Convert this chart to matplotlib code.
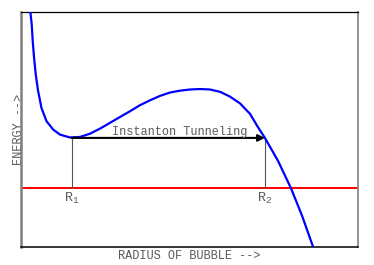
import matplotlib
matplotlib.use("Agg")
import matplotlib.pyplot as plt

plt.rcParams['font.family'] = ['Liberation Mono', 'DejaVu Sans Mono']
plt.rcParams['mathtext.fontset'] = 'custom'
plt.rcParams['mathtext.rm'] = 'Liberation Mono'
plt.rcParams['mathtext.it'] = 'Liberation Mono'

# potential curve
radius = [0.28, 0.32, 0.35, 0.39, 0.44, 0.51, 0.61, 0.76, 0.96, 1.16, 1.45, 1.75,
          2.05, 2.34, 2.64, 2.94, 3.23, 3.53, 3.83, 4.13, 4.42, 4.72, 5.02, 5.31,
          5.61, 5.91, 6.20, 6.50, 6.80, 7.02, 7.24, 7.63, 8.01, 8.34, 8.67]
energy = [10.0, 9.46, 8.75, 8.04, 7.33, 6.63, 5.91, 5.35, 4.99, 4.78, 4.66, 4.68,
          4.82, 5.03, 5.28, 5.53, 5.77, 6.03, 6.24, 6.43, 6.57, 6.65, 6.70, 6.72,
          6.70, 6.60, 6.40, 6.11, 5.66, 5.13, 4.64, 3.66, 2.51, 1.34, 0.0]

true_vacuum = 2.5
r1, r2 = 1.51, 7.24
level = 4.64

fig = plt.figure(figsize=(3.74, 2.65), dpi=100)
ax = fig.add_axes([0.056, 0.068, 0.901, 0.887])

ax.plot(radius, energy, color='blue', lw=1.6, zorder=3,
        solid_joinstyle='round')
ax.axhline(true_vacuum, color='red', lw=1.4, zorder=2)

# drop lines to the red level
ax.plot([r1, r1], [true_vacuum, level], color='#555555', lw=0.8)
ax.plot([r2, r2], [true_vacuum, level], color='#555555', lw=0.8)

# tunneling arrow
ax.annotate('', xy=(r2, level), xytext=(r1, level),
            arrowprops=dict(arrowstyle='-|>', color='black', lw=1.5,
                            mutation_scale=10, shrinkA=0, shrinkB=0))
ax.text((r1 + r2) / 2 + 0.34, level + 0.12, 'Instanton Tunneling',
        ha='center', va='baseline', fontsize=8.6, color='#5a5a5a')

ax.text(r1, true_vacuum - 0.12, r'R$_1$', ha='center', va='top', fontsize=9.6, color='#5a5a5a')
ax.text(r2, true_vacuum - 0.12, r'R$_2$', ha='center', va='top', fontsize=9.6, color='#5a5a5a')

ax.set_xlim(0, 10)
ax.set_ylim(0, 10)
ax.set_xticks([])
ax.set_yticks([])
ax.set_xlabel('RADIUS OF BUBBLE -->', fontsize=8.6, color='#5a5a5a', labelpad=2)
ax.set_ylabel('ENERGY -->', fontsize=8.6, color='#5a5a5a', labelpad=-3)

ax.spines['left'].set_color('#808080')
ax.spines['left'].set_linewidth(1.8)
ax.spines['right'].set_color('#808080')
ax.spines['right'].set_linewidth(1.2)
ax.spines['top'].set_linewidth(0.9)
ax.spines['bottom'].set_linewidth(1.1)

fig.savefig('out.png', dpi=100)
